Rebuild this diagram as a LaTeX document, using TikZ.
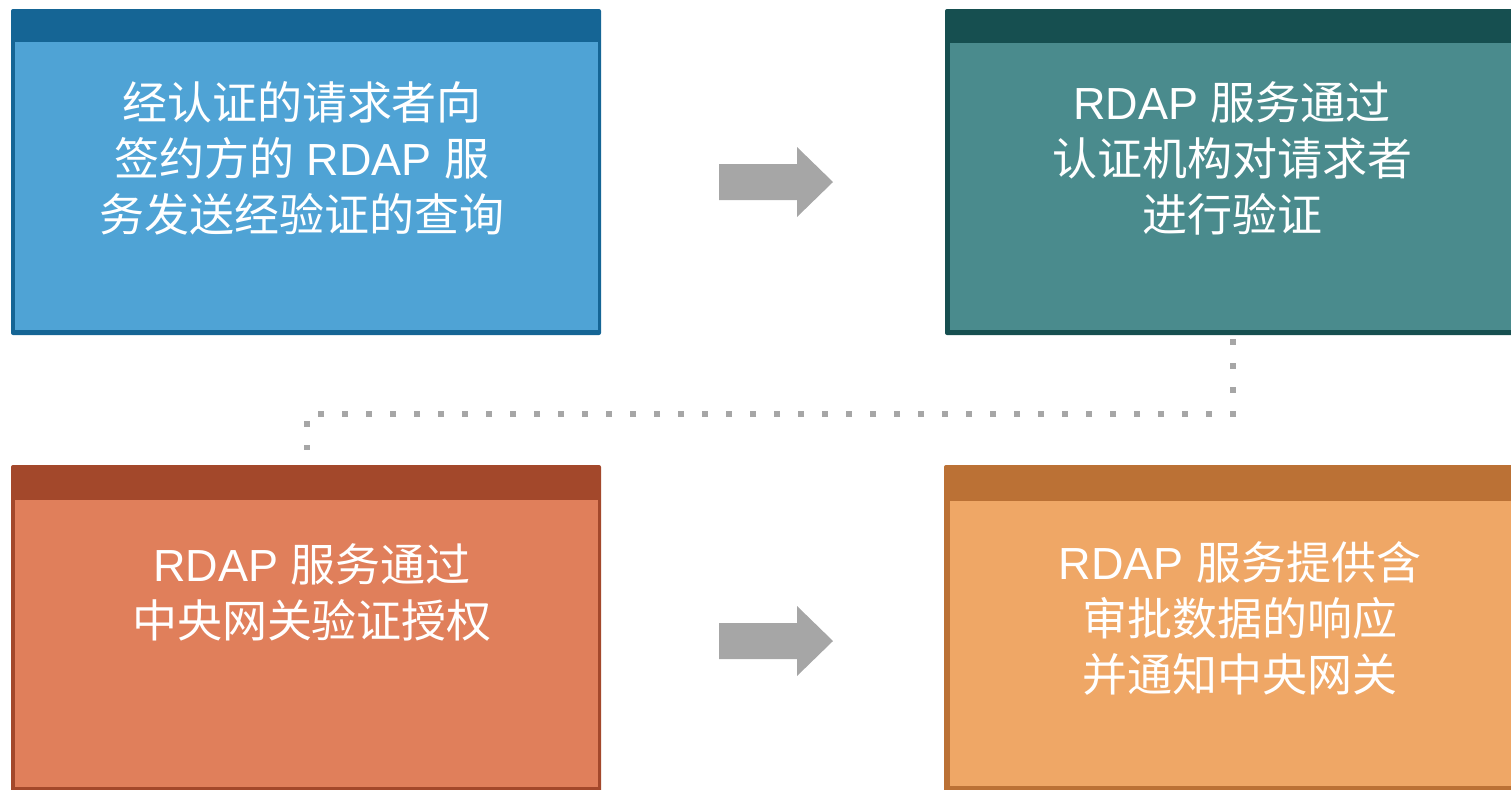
\documentclass[tikz,border=0pt]{standalone}
\usepackage{fontspec}
\setmainfont{Liberation Sans}
\newfontfamily\cjk{Noto Sans CJK SC}
\newfontfamily\lat{Liberation Sans}
\definecolor{hdA}{HTML}{156595}
\definecolor{flA}{HTML}{4FA3D5}
\definecolor{hdB}{HTML}{164F50}
\definecolor{flB}{HTML}{4A8B8D}
\definecolor{hdC}{HTML}{A3482B}
\definecolor{flC}{HTML}{E07F5B}
\definecolor{hdD}{HTML}{BB7135}
\definecolor{flD}{HTML}{EFA766}
\definecolor{arrgray}{HTML}{A6A6A6}
\begin{document}
\begin{tikzpicture}[x=0.5pt,y=-0.5pt,
  txt/.style={text=white, align=center, inner sep=0pt, font=\cjk\fontsize{22.5}{28}\selectfont},
  blockarrow/.style={fill=arrgray},
  dotline/.style={draw=arrgray, line width=3pt, dash pattern=on 3pt off 9pt}]
\useasboundingbox (0,0) rectangle (1511,789);
\clip (0,0) rectangle (1511,789);
% box 1
\fill[hdA, rounded corners=1pt] (11,9) rectangle (601,335);
\fill[flA] (15,42) rectangle (598,330);
% box 2
\fill[hdB, rounded corners=1pt] (945,9) rectangle (1545,335);
\fill[flB] (950,43) rectangle (1540,330);
% box 3
\fill[hdC, rounded corners=1pt] (11,465) rectangle (601,800);
\fill[flC] (15,500) rectangle (598,787);
% box 4
\fill[hdD, rounded corners=1pt] (944,465) rectangle (1545,800);
\fill[flD] (950,501) rectangle (1540,786);
% texts
\node[txt] (t1) at (302,158) {经认证的请求者向\\签约方的{\lat\ RDAP }服\\务发送经验证的查询};
\node[txt] (t2) at (1232,158) {{\lat RDAP }服务通过\\认证机构对请求者\\进行验证};
\node[txt] (t3) at (312,592) {{\lat RDAP }服务通过\\中央网关验证授权};
\node[txt] (t4) at (1240,618) {{\lat RDAP }服务提供含\\审批数据的响应\\并通知中央网关};
% block arrows
\fill[blockarrow] (719,164) -- (797,164) -- (797,147) -- (833,182) -- (797,217) -- (797,200) -- (719,200) -- cycle;
\fill[blockarrow] (719,623) -- (797,623) -- (797,606) -- (833,641) -- (797,676) -- (797,659) -- (719,659) -- cycle;
% dotted connector
\coordinate (c2) at (1233,339);
\coordinate (c3) at (307,450);
\draw[dotline] (c2) |- (c3 |- 0,414) -- (c3);
\end{tikzpicture}
\end{document}
